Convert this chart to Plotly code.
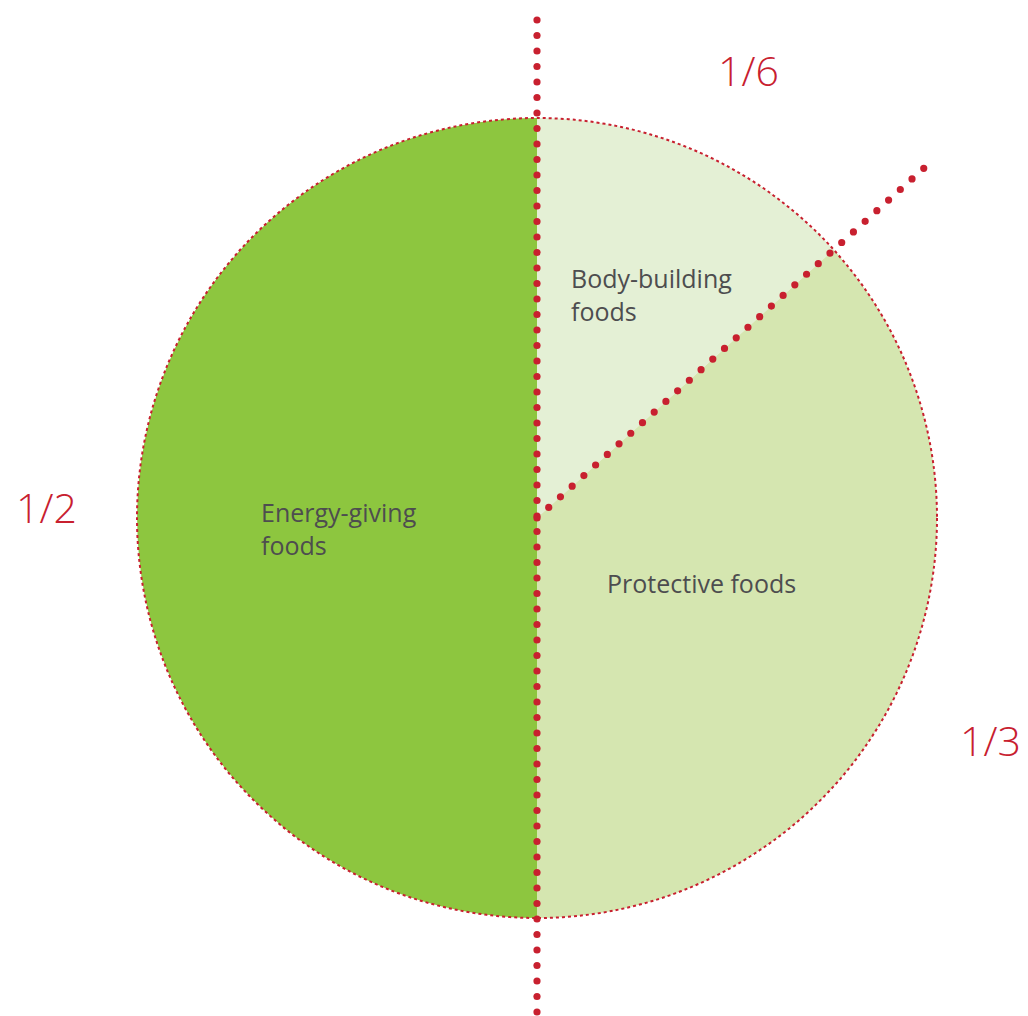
import numpy as np
import plotly.graph_objects as go

# Data
categories = ["Body-building foods", "Protective foods", "Energy-giving foods"]
values = [13.3, 36.7, 50.0]
slice_colors = ["#e4f0d5", "#d5e6b0", "#8dc63f"]
fraction_labels = ["1/6", "1/3", "1/2"]
label_texts = ["Body-building<br>foods", "Protective foods", "Energy-giving<br>foods"]

W, H = 1028, 1016
cx, cy, R = 537, 518, 400
RED = "#c8202f"
TXT = "#4d4d4f"

fig = go.Figure()

fig.add_trace(go.Pie(
    labels=categories, values=values, sort=False, direction="clockwise",
    rotation=0, marker=dict(colors=slice_colors, line=dict(width=0)),
    textinfo="none", hoverinfo="label", showlegend=False,
    domain=dict(x=[(cx - R) / W, (cx + R) / W],
                y=[(H - cy - R) / H, (H - cy + R) / H]),
))

# boundary angle from data (clockwise from 12 o'clock)
theta = values[0] / np.sum(values) * 2 * np.pi

# circle outline
fig.add_shape(type="circle", xref="x", yref="y", x0=cx - R, x1=cx + R, y0=cy - R, y1=cy + R,
              line=dict(color=RED, width=2, dash="dot"), layer="above")

# dotted guide lines drawn as round dots above the pie
dot_r = 3.6
ys = np.arange(cy - 498, cy + 495, 15.5)
xs = np.full_like(ys, cx)
rs = np.arange(0, 525, 15.8)
xs2 = cx + rs * np.sin(theta)
ys2 = cy - rs * np.cos(theta)
for px, py in list(zip(xs, ys)) + list(zip(xs2, ys2)):
    fig.add_shape(type="circle", xref="x", yref="y", x0=px - dot_r, x1=px + dot_r,
                  y0=py - dot_r, y1=py + dot_r, fillcolor=RED, line=dict(width=0), layer="above")

font_lbl = dict(family="Open Sans", size=25, color=TXT)
fig.add_annotation(x=569, y=294, text=label_texts[0], xanchor="left", yanchor="middle",
                   align="left", showarrow=False, font=font_lbl, xref="x", yref="y")
fig.add_annotation(x=605, y=583, text=label_texts[1], xanchor="left", yanchor="middle",
                   align="left", showarrow=False, font=font_lbl, xref="x", yref="y")
fig.add_annotation(x=259, y=528, text=label_texts[2], xanchor="left", yanchor="middle",
                   align="left", showarrow=False, font=font_lbl, xref="x", yref="y")

font_frac = dict(family="Open Sans", size=41, color=RED, weight=300)
fig.add_annotation(x=748, y=70, text=fraction_labels[0], showarrow=False, font=font_frac, xref="x", yref="y")
fig.add_annotation(x=990, y=740, text=fraction_labels[1], showarrow=False, font=font_frac, xref="x", yref="y")
fig.add_annotation(x=46, y=507, text=fraction_labels[2], showarrow=False, font=font_frac, xref="x", yref="y")

fig.update_layout(
    width=W, height=H, margin=dict(l=0, r=0, t=0, b=0),
    paper_bgcolor="white", plot_bgcolor="rgba(0,0,0,0)",
    xaxis=dict(range=[0, W], visible=False, domain=[0, 1], fixedrange=True),
    yaxis=dict(range=[H, 0], visible=False, domain=[0, 1], fixedrange=True),
)

fig.write_html("out.html")
